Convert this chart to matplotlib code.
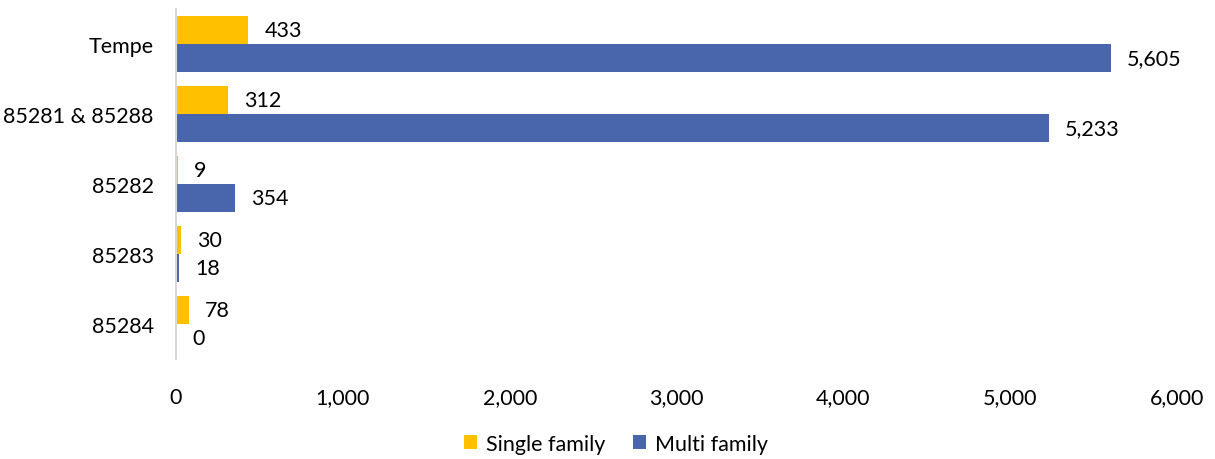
import matplotlib.pyplot as plt
import numpy as np

categories = ["Tempe", "85281 & 85288", "85282", "85283", "85284"]
single_family = [433, 312, 9, 30, 78]
multi_family = [5605, 5233, 354, 18, 0]

plt.rcParams['font.family'] = ['Lato', 'DejaVu Sans']
fs = 15.5

fig = plt.figure(figsize=(12.15, 4.6), dpi=100)
ax = fig.add_axes([0.1449, 0.2174, 0.8238, 0.7606])

y = np.arange(len(categories))
h = 0.4
b1 = ax.barh(y - h / 2, single_family, height=h, color='#FFC000', label='Single family')
b2 = ax.barh(y + h / 2, multi_family, height=h, color='#4966AD', label='Multi family')

for bars, vals in ((b1, single_family), (b2, multi_family)):
    for bar, v in zip(bars, vals):
        ax.annotate(f"{v:,}", (bar.get_width(), bar.get_y() + bar.get_height() / 2),
                    xytext=(16, 0), textcoords='offset pixels',
                    va='center', ha='left', fontsize=fs)

ax.set_xlim(0, 6000)
ax.set_ylim(len(categories) - 0.5, -0.5)
ax.set_yticks(y)
ax.set_yticklabels(categories, fontsize=fs)
ax.set_xticks(np.arange(0, 6001, 1000))
ax.set_xticklabels([f"{t:,}" for t in range(0, 6001, 1000)], fontsize=fs)
ax.tick_params(axis='y', length=0, pad=16)
ax.tick_params(axis='x', length=0, pad=20)
for s in ['top', 'right', 'bottom']:
    ax.spines[s].set_visible(False)
ax.spines['left'].set_color('#D9D9D9')
ax.spines['left'].set_linewidth(1.5)

fig.legend(loc='center', bbox_to_anchor=(0.507, 0.033), ncol=2, frameon=False,
           fontsize=fs, handlelength=0.6, handleheight=0.6, columnspacing=1.3, handletextpad=0.4)

fig.savefig('out.png', dpi=100)
